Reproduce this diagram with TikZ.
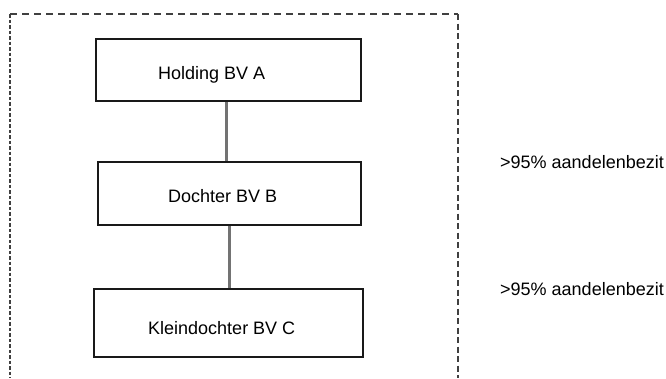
\documentclass[tikz,border=0pt]{standalone}
\usepackage{fontspec}
\setmainfont{Liberation Sans}
\begin{document}
\begin{tikzpicture}[x=1pt,y=-1pt,
  entity/.style={draw=black!90,line width=1.8pt,fill=white,inner sep=0pt},
  boxtext/.style={anchor=base west,inner sep=0pt,font=\fontsize{18}{21}\selectfont,text=black},
  link/.style={draw=black!55,line width=3pt},
  frame/.style={draw=black!75,line width=1.5pt},
  note/.style={anchor=base west,inner sep=0pt,font=\fontsize{18}{21}\selectfont,text=black}]
\useasboundingbox (0,0) rectangle (666,378);
\draw[frame,dash pattern=on 7pt off 5pt] (10,14) -- (458,14);
\draw[frame,dash pattern=on 3.5pt off 2pt] (10,14) -- (10,378);
\draw[frame,dash pattern=on 6pt off 3.5pt] (458,14) -- (458,378);
\node[entity,minimum width=265,minimum height=62] (A) at (228.5,70) {};
\node[entity,minimum width=263,minimum height=63] (B) at (229.5,193.5) {};
\node[entity,minimum width=269,minimum height=68] (C) at (228.5,323) {};
\node[boxtext] (tA) at (158,79) {Holding BV A};
\node[boxtext] (tB) at (168,202) {Dochter BV B};
\node[boxtext] (tC) at (148,334) {Kleindochter BV C};
\draw[link] ([xshift=-2.5pt]A.south) -- ([xshift=-3.5pt]B.north);
\draw[link] ([xshift=-0.5pt]B.south) -- ([xshift=0.5pt]C.north);
\node[note] (L1) at (500,168) {>95\% aandelenbezit};
\node[note] (L2) at (500,295) {>95\% aandelenbezit};
\end{tikzpicture}
\end{document}
